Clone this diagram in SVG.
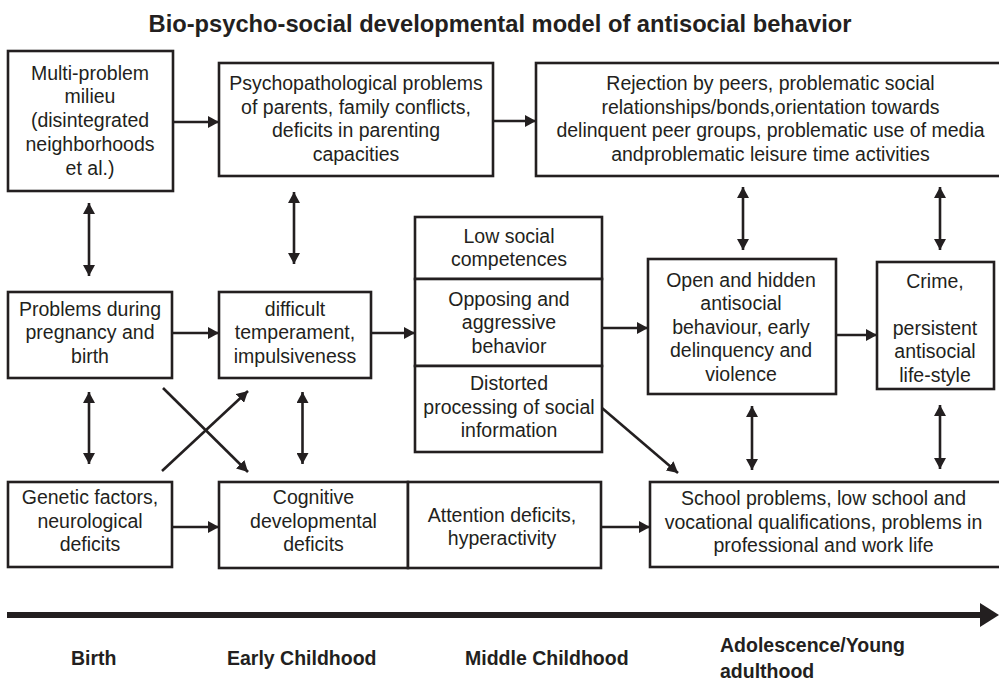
<svg xmlns="http://www.w3.org/2000/svg" width="999" height="682" viewBox="0 0 999 682">
  <defs>
    <marker id="head" markerUnits="userSpaceOnUse" markerWidth="12" markerHeight="12" refX="11" refY="6" orient="auto-start-reverse">
      <path d="M0,0 L11,6 L0,12 z" fill="#231f20"/>
    </marker>
  </defs>
  <style>
    .box { fill: #ffffff; stroke: #231f20; stroke-width: 2.6; }
    .lbl { font-family: "Liberation Sans", Arial, Helvetica, sans-serif; font-size: 19.5px; fill: #231f20; text-anchor: middle; }
    .title { font-family: "Liberation Sans", Arial, Helvetica, sans-serif; font-size: 23.7px; font-weight: bold; fill: #231f20; text-anchor: middle; }
    .stage { font-family: "Liberation Sans", Arial, Helvetica, sans-serif; font-size: 19.5px; font-weight: bold; fill: #231f20; }
    .link { stroke: #231f20; stroke-width: 2.6; fill: none; marker-end: url(#head); }
    .both { stroke: #231f20; stroke-width: 2.6; fill: none; marker-start: url(#head); marker-end: url(#head); }
  </style>

  <rect width="999" height="682" fill="#ffffff"/>

  <text class="title" x="500" y="32">Bio-psycho-social developmental model of antisocial behavior</text>

  <!-- top row -->
  <g id="milieu">
    <rect class="box" x="8" y="51" width="165" height="140"/>
    <text class="lbl" x="90" y="79.5">Multi-problem</text>
    <text class="lbl" x="90" y="103.3">milieu</text>
    <text class="lbl" x="90" y="127.1">(disintegrated</text>
    <text class="lbl" x="90" y="150.9">neighborhoods</text>
    <text class="lbl" x="90" y="174.7">et al.)</text>
  </g>

  <g id="parents">
    <rect class="box" x="219" y="63" width="274" height="113"/>
    <text class="lbl" x="356" y="90">Psychopathological problems</text>
    <text class="lbl" x="356" y="113.6">of parents, family conflicts,</text>
    <text class="lbl" x="356" y="137.2">deficits in parenting</text>
    <text class="lbl" x="356" y="160.8">capacities</text>
  </g>

  <g id="peers">
    <rect class="box" x="536" y="63" width="468" height="113"/>
    <text class="lbl" x="770.5" y="90">Rejection by peers, problematic social</text>
    <text class="lbl" x="770.5" y="113.6">relationships/bonds,orientation towards</text>
    <text class="lbl" x="770.5" y="137.2">delinquent peer groups, problematic use of media</text>
    <text class="lbl" x="770.5" y="160.8">andproblematic leisure time activities</text>
  </g>

  <!-- middle row -->
  <g id="pregnancy">
    <rect class="box" x="8" y="292" width="164" height="86"/>
    <text class="lbl" x="90" y="316">Problems during</text>
    <text class="lbl" x="90" y="339.4">pregnancy and</text>
    <text class="lbl" x="90" y="362.8">birth</text>
  </g>

  <g id="temperament">
    <rect class="box" x="219" y="292" width="152" height="86"/>
    <text class="lbl" x="295" y="316">difficult</text>
    <text class="lbl" x="295" y="339.4">temperament,</text>
    <text class="lbl" x="295" y="362.8">impulsiveness</text>
  </g>

  <g id="competences">
    <rect class="box" x="415" y="217" width="187" height="62"/>
    <text class="lbl" x="509" y="242.7">Low social</text>
    <text class="lbl" x="509" y="266">competences</text>
  </g>

  <g id="aggressive">
    <rect class="box" x="415" y="279" width="187" height="87"/>
    <text class="lbl" x="509" y="306">Opposing and</text>
    <text class="lbl" x="509" y="329.4">aggressive</text>
    <text class="lbl" x="509" y="352.8">behavior</text>
  </g>

  <g id="processing">
    <rect class="box" x="415" y="366" width="187" height="86"/>
    <text class="lbl" x="509" y="390">Distorted</text>
    <text class="lbl" x="509" y="413.6">processing of social</text>
    <text class="lbl" x="509" y="437.2">information</text>
  </g>

  <g id="antisocial">
    <rect class="box" x="648" y="259" width="188" height="135"/>
    <text class="lbl" x="741" y="286.6">Open and hidden</text>
    <text class="lbl" x="741" y="310.2">antisocial</text>
    <text class="lbl" x="741" y="333.8">behaviour, early</text>
    <text class="lbl" x="741" y="357.4">delinquency and</text>
    <text class="lbl" x="741" y="381">violence</text>
  </g>

  <g id="crime">
    <rect class="box" x="877" y="262" width="117" height="127"/>
    <text class="lbl" x="935" y="288">Crime,</text>
    <text class="lbl" x="935" y="335">persistent</text>
    <text class="lbl" x="935" y="358.4">antisocial</text>
    <text class="lbl" x="935" y="381.8">life-style</text>
  </g>

  <!-- bottom row -->
  <g id="genetic">
    <rect class="box" x="8" y="482" width="164" height="85"/>
    <text class="lbl" x="90" y="504">Genetic factors,</text>
    <text class="lbl" x="90" y="527.6">neurological</text>
    <text class="lbl" x="90" y="551.2">deficits</text>
  </g>

  <g id="cognitive">
    <rect class="box" x="219" y="482" width="189" height="86"/>
    <text class="lbl" x="313.5" y="504">Cognitive</text>
    <text class="lbl" x="313.5" y="527.6">developmental</text>
    <text class="lbl" x="313.5" y="551.2">deficits</text>
  </g>

  <g id="attention">
    <rect class="box" x="408" y="482" width="193" height="86"/>
    <text class="lbl" x="502" y="521.7">Attention deficits,</text>
    <text class="lbl" x="502" y="545.2">hyperactivity</text>
  </g>

  <g id="school">
    <rect class="box" x="650" y="482" width="354" height="85"/>
    <text class="lbl" x="823.5" y="505">School problems, low school and</text>
    <text class="lbl" x="823.5" y="528.5">vocational qualifications, problems in</text>
    <text class="lbl" x="823.5" y="552">professional and work life</text>
  </g>

  <!-- connectors -->
  <g id="connectors">
    <line class="link" x1="173" y1="122" x2="219" y2="122"/>
    <line class="link" x1="493" y1="121" x2="536" y2="121"/>
    <line class="link" x1="172" y1="333" x2="219" y2="333"/>
    <line class="link" x1="371" y1="333" x2="415" y2="333"/>
    <line class="link" x1="602" y1="328" x2="648" y2="328"/>
    <line class="link" x1="836" y1="335" x2="877" y2="335"/>
    <line class="link" x1="172" y1="527" x2="219" y2="527"/>
    <line class="link" x1="601" y1="527" x2="650" y2="527"/>
    <line class="link" x1="602" y1="408" x2="678" y2="473"/>
    <line class="link" x1="163" y1="388" x2="248" y2="472"/>
    <line class="link" x1="162" y1="471" x2="248" y2="391"/>

    <line class="both" x1="89" y1="203" x2="89" y2="276"/>
    <line class="both" x1="294" y1="192" x2="294" y2="264"/>
    <line class="both" x1="89" y1="392" x2="89" y2="464"/>
    <line class="both" x1="302.5" y1="392" x2="302.5" y2="464"/>
    <line class="both" x1="743" y1="187" x2="743" y2="250"/>
    <line class="both" x1="940" y1="187" x2="940" y2="250"/>
    <line class="both" x1="752" y1="406" x2="752" y2="470"/>
    <line class="both" x1="940" y1="405" x2="940" y2="469"/>
  </g>

  <!-- time axis -->
  <g id="timeline">
    <line x1="7" y1="615" x2="982" y2="615" stroke="#231f20" stroke-width="6"/>
    <path d="M980,603 L999,615 L980,627 z" fill="#231f20"/>
    <text class="stage" x="71" y="665">Birth</text>
    <text class="stage" x="227" y="665">Early Childhood</text>
    <text class="stage" x="465" y="665">Middle Childhood</text>
    <text class="stage" x="720" y="651.5">Adolescence/Young</text>
    <text class="stage" x="720" y="678">adulthood</text>
  </g>
</svg>
